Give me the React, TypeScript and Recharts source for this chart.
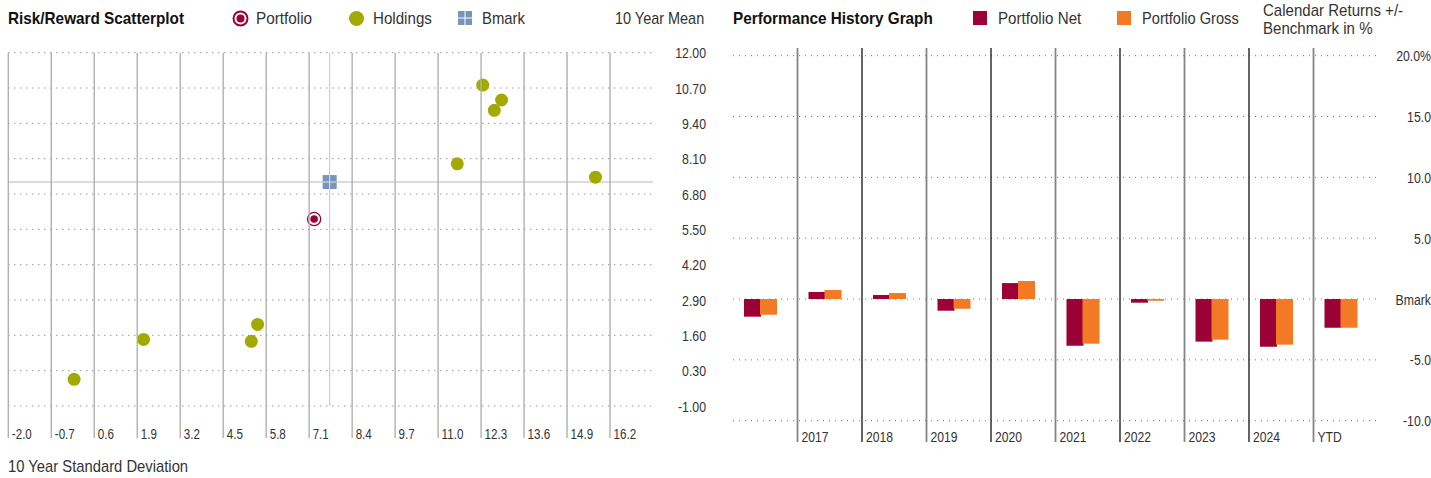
import React from "react";
import { ScatterChart, Scatter, BarChart, Bar, XAxis, YAxis, CartesianGrid, ReferenceLine } from "recharts";

// risk / reward scatter
const stdDevTicks = [-2.0, -0.7, 0.6, 1.9, 3.2, 4.5, 5.8, 7.1, 8.4, 9.7, 11.0, 12.3, 13.6, 14.9, 16.2];
const meanTicks = [-1.0, 0.3, 1.6, 2.9, 4.2, 5.5, 6.8, 8.1, 9.4, 10.7, 12.0];
const holdingsSd = [12.35, 12.92, 12.7, 11.58, 15.76, 2.09, 5.54, 5.35, -0.01];
const holdingsMean = [10.81, 10.26, 9.88, 7.91, 7.42, 1.45, 2.0, 1.38, -0.02];
const portfolioSd = 7.25;
const portfolioMean = 5.88;
const bmarkSd = 7.72;
const bmarkMean = 7.24;

// performance history
const years = ["", "2017", "2018", "2019", "2020", "2021", "2022", "2023", "2024", "YTD"];
const netReturns = [-1.45, 0.58, 0.33, -0.96, 1.31, -3.84, -0.3, -3.5, -3.92, -2.36];
const grossReturns = [-1.29, 0.74, 0.49, -0.8, 1.48, -3.67, -0.14, -3.34, -3.75, -2.36];
const returnTicks = [-10, -5, 0, 5, 10, 15, 20];
const returnTickLabels = ["-10.0", "-5.0", "Bmark", "5.0", "10.0", "15.0", "20.0%"];

const FONT = "'Liberation Sans', Arial, sans-serif";
const TEXT = "#333";
const RED = "#9b0036";
const ORANGE = "#f27a24";
const OLIVE = "#a2aa00";
const BLUE = "#7695b9";

const SC_TOP = 52.7;
const BAR_TOP = 55.7;
const BAR_PLOT_W = 645;

const holdings = holdingsSd.map((sd, i) => ({ sd, mean: holdingsMean[i] }));
const portfolio = [{ sd: portfolioSd, mean: portfolioMean }];
const bmark = [{ sd: bmarkSd, mean: bmarkMean }];
const perfData = years.map((year, i) => ({ year, net: netReturns[i], gross: grossReturns[i] }));

// the original uses a condensed face, so squeeze Liberation Sans horizontally
const NarrowText = ({ x, y, size, scale = 0.82, anchor = "start", children }: any) => (
  <text
    transform={`translate(${x} ${y}) scale(${scale} 1)`}
    textAnchor={anchor}
    fontSize={size}
    fill={TEXT}
    fontFamily={FONT}
  >
    {children}
  </text>
);

const SdTick = (props: any) => {
  const { x, payload } = props;
  return (
    <g>
      <line x1={x} x2={x} y1={SC_TOP} y2={438} stroke="#b0b0b0" strokeWidth={1.4} />
      <NarrowText x={x + 3.5} y={439} size={14} scale={0.83}>
        {payload.value.toFixed(1)}
      </NarrowText>
    </g>
  );
};

const MeanTick = (props: any) => {
  const { y, payload } = props;
  return (
    <NarrowText x={706} y={y + 5.5} size={15} anchor="end">
      {payload.value.toFixed(2)}
    </NarrowText>
  );
};

const YearTick = (props: any) => {
  const { x, payload, index } = props;
  const bw = BAR_PLOT_W / years.length;
  const left = x - bw / 2;
  if (index === 0) return null;
  const odd = index % 2 === 1;
  return (
    <g>
      <line x1={left} x2={left} y1={48} y2={442} stroke={odd ? "#858585" : "#111"} strokeWidth={odd ? 1.8 : 1.3} />
      <NarrowText x={left + 4} y={442} size={15} scale={0.81}>
        {payload.value}
      </NarrowText>
    </g>
  );
};

const ReturnTick = (props: any) => {
  const { y, payload } = props;
  const i = returnTicks.indexOf(payload.value);
  return (
    <NarrowText x={1431 - 720} y={y + 5.5} size={15} anchor="end">
      {returnTickLabels[i]}
    </NarrowText>
  );
};

const HoldingDot = (props: any) => <circle cx={props.cx} cy={props.cy} r={6.5} fill={OLIVE} />;

const PortfolioDot = (props: any) => (
  <g>
    <circle cx={props.cx} cy={props.cy} r={6.6} fill="#fff" stroke={RED} strokeWidth={1.3} />
    <circle cx={props.cx} cy={props.cy} r={3.8} fill={RED} />
  </g>
);

const BmarkDot = (props: any) => (
  <g>
    <rect x={props.cx - 7} y={props.cy - 7} width={14} height={14} fill={BLUE} />
    <line x1={props.cx - 7} x2={props.cx + 7} y1={props.cy} y2={props.cy} stroke="#dfe6ef" strokeWidth={1} />
    <line x1={props.cx} x2={props.cx} y1={props.cy - 7} y2={props.cy + 7} stroke="#dfe6ef" strokeWidth={1} />
  </g>
);

// bars sit a little left of the band centre in the original
const ShiftedBar = (props: any) => {
  const { x, y, width, height, fill } = props;
  const top = Math.min(y, y + height);
  return <rect x={x - 5} y={top} width={width} height={Math.abs(height)} fill={fill} />;
};

const Label = ({ left, top, size = 17, scale = 0.88, bold = false, children, lh }: any) => (
  <div
    style={{
      position: "absolute",
      left,
      top,
      fontSize: size,
      lineHeight: lh ? `${lh}px` : 1,
      color: bold ? "#111" : TEXT,
      fontWeight: bold ? 700 : 400,
      fontFamily: FONT,
      whiteSpace: "nowrap",
      transform: `scaleX(${scale})`,
      transformOrigin: "left top",
    }}
  >
    {children}
  </div>
);

export default function App() {
  return (
    <div style={{ position: "absolute", left: 0, top: 0, width: 1431, height: 478, overflow: "hidden", background: "#fff" }}>
      {/* header left */}
      <Label left={8} top={10} bold scale={0.9}>Risk/Reward Scatterplot</Label>
      <svg style={{ position: "absolute", left: 232, top: 10 }} width={17} height={17}>
        <circle cx={8.5} cy={8.5} r={7} fill="#fff" stroke={RED} strokeWidth={2} />
        <circle cx={8.5} cy={8.5} r={4} fill={RED} />
      </svg>
      <Label left={256} top={10} scale={0.9}>Portfolio</Label>
      <svg style={{ position: "absolute", left: 348, top: 10 }} width={17} height={17}>
        <circle cx={8.5} cy={8.5} r={7.5} fill={OLIVE} />
      </svg>
      <Label left={373} top={10} scale={0.89}>Holdings</Label>
      <svg style={{ position: "absolute", left: 458, top: 11 }} width={15} height={15}>
        <rect x={0} y={0} width={14} height={14} fill={BLUE} />
        <line x1={0} x2={14} y1={7} y2={7} stroke="#fff" strokeWidth={1} />
        <line x1={7} x2={7} y1={0} y2={14} stroke="#fff" strokeWidth={1} />
      </svg>
      <Label left={482} top={10} scale={0.875}>Bmark</Label>
      <Label left={615} top={10} scale={0.85}>10 Year Mean</Label>

      {/* header right */}
      <Label left={733} top={10} bold scale={0.9}>Performance History Graph</Label>
      <div style={{ position: "absolute", left: 973, top: 11, width: 14, height: 14, background: RED }} />
      <Label left={998} top={10} scale={0.89}>Portfolio Net</Label>
      <div style={{ position: "absolute", left: 1117, top: 11, width: 14, height: 14, background: ORANGE }} />
      <Label left={1142} top={10} scale={0.86}>Portfolio Gross</Label>
      <Label left={1263} top={2} lh={18} scale={0.885}>
        Calendar Returns +/-
        <br />
        Benchmark in %
      </Label>

      <div style={{ position: "absolute", left: 0, top: 0 }}>
        <ScatterChart width={720} height={478} margin={{ top: SC_TOP, right: 7, bottom: 42, left: 8.3 }}>
          <CartesianGrid vertical={false} stroke="#666" strokeDasharray="1 5" />
          <XAxis
            type="number"
            dataKey="sd"
            domain={[-2, 17.5]}
            ticks={stdDevTicks}
            interval={0}
            axisLine={false}
            tickLine={false}
            tick={<SdTick />}
            height={30}
            allowDataOverflow
          />
          <YAxis
            type="number"
            dataKey="mean"
            orientation="right"
            domain={[-1, 12]}
            ticks={meanTicks}
            interval={0}
            axisLine={false}
            tickLine={false}
            tick={<MeanTick />}
            width={60}
            allowDataOverflow
          />
          <ReferenceLine x={bmarkSd} stroke="#c4c4c4" strokeWidth={1} />
          <ReferenceLine y={bmarkMean} stroke="#cfcfcf" strokeWidth={1.5} />
          <Scatter data={holdings} shape={<HoldingDot />} isAnimationActive={false} />
          <Scatter data={bmark} shape={<BmarkDot />} isAnimationActive={false} />
          <Scatter data={portfolio} shape={<PortfolioDot />} isAnimationActive={false} />
        </ScatterChart>
      </div>

      <Label left={8} top={458} scale={0.87}>10 Year Standard Deviation</Label>

      <div style={{ position: "absolute", left: 720, top: 0 }}>
        <BarChart
          width={711}
          height={478}
          data={perfData}
          margin={{ top: BAR_TOP, right: 0, bottom: 27.3, left: 13 }}
          barSize={17}
          barGap={-1}
          style={{ overflow: "visible" }}
        >
          <CartesianGrid vertical={false} stroke="#777" strokeDasharray="1 5" />
          <XAxis
            dataKey="year"
            interval={0}
            axisLine={false}
            tickLine={false}
            tick={<YearTick />}
            height={30}
          />
          <YAxis
            orientation="right"
            domain={[-10, 20]}
            ticks={returnTicks}
            interval={0}
            axisLine={false}
            tickLine={false}
            tick={<ReturnTick />}
            width={53}
          />
          <Bar dataKey="net" fill={RED} shape={<ShiftedBar />} isAnimationActive={false} />
          <Bar dataKey="gross" fill={ORANGE} shape={<ShiftedBar />} isAnimationActive={false} />
        </BarChart>
      </div>
    </div>
  );
}
